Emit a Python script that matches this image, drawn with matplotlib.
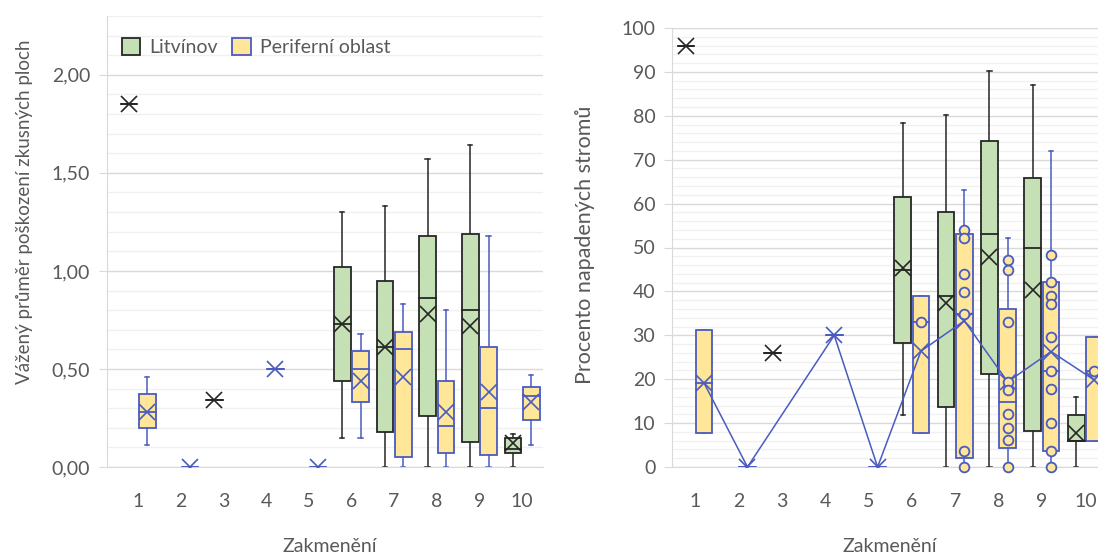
import matplotlib
matplotlib.use("Agg")
from matplotlib import pyplot as plt
from matplotlib.patches import Rectangle
from matplotlib.ticker import MultipleLocator, FuncFormatter

categories = [1, 2, 3, 4, 5, 6, 7, 8, 9, 10]

# weighted damage of sample plots - Litvínov
litv_dmg_low = [1.85, None, 0.34, None, None, 0.15, 0.00, 0.00, 0.00, 0.00]
litv_dmg_q1 = [1.85, None, 0.34, None, None, 0.44, 0.18, 0.26, 0.13, 0.07]
litv_dmg_med = [1.85, None, 0.34, None, None, 0.73, 0.61, 0.86, 0.80, 0.09]
litv_dmg_q3 = [1.85, None, 0.34, None, None, 1.02, 0.95, 1.18, 1.19, 0.15]
litv_dmg_high = [1.85, None, 0.34, None, None, 1.30, 1.33, 1.57, 1.64, 0.17]
litv_dmg_mean = [1.85, None, 0.34, None, None, 0.73, 0.61, 0.78, 0.72, 0.12]

# weighted damage of sample plots - periphery
peri_dmg_low = [0.11, 0.00, None, 0.50, 0.00, 0.15, 0.00, 0.00, 0.00, 0.11]
peri_dmg_q1 = [0.20, 0.00, None, 0.50, 0.00, 0.33, 0.05, 0.07, 0.06, 0.24]
peri_dmg_med = [0.28, 0.00, None, 0.50, 0.00, 0.50, 0.60, 0.21, 0.30, 0.36]
peri_dmg_q3 = [0.37, 0.00, None, 0.50, 0.00, 0.59, 0.69, 0.44, 0.61, 0.41]
peri_dmg_high = [0.46, 0.00, None, 0.50, 0.00, 0.68, 0.83, 0.80, 1.18, 0.47]
peri_dmg_mean = [0.28, 0.00, None, 0.50, 0.00, 0.44, 0.46, 0.28, 0.38, 0.33]

# percentage of attacked trees - Litvínov
litv_pct_low = [96, None, 26, None, None, 11.8, 0, 0, 0, 0]
litv_pct_q1 = [96, None, 26, None, None, 28.3, 13.6, 21.2, 8.3, 6.0]
litv_pct_med = [96, None, 26, None, None, 44.9, 39.0, 53.1, 49.8, 6.0]
litv_pct_q3 = [96, None, 26, None, None, 61.4, 58.1, 74.3, 65.9, 11.8]
litv_pct_high = [96, None, 26, None, None, 78.4, 80.2, 90.3, 87.0, 16.0]
litv_pct_mean = [96, None, 26, None, None, 45.3, 37.3, 47.9, 40.3, 7.7]

# percentage of attacked trees - periphery
peri_pct_low = [7.7, 0, None, 30, 0, 7.7, 0, 0, 0, 6.0]
peri_pct_q1 = [7.7, 0, None, 30, 0, 7.7, 2.0, 4.3, 3.6, 6.0]
peri_pct_med = [19.1, 0, None, 30, 0, 33.0, 34.8, 14.7, 21.9, 21.9]
peri_pct_q3 = [31.2, 0, None, 30, 0, 38.9, 53.1, 36.1, 42.1, 29.7]
peri_pct_high = [31.2, 0, None, 30, 0, 38.9, 63.1, 52.1, 72.0, 29.7]
peri_pct_mean = [19.1, 0, None, 30, 0, 26.4, 33.3, 19.4, 26.3, 19.8]
peri_pct_points = [
    [], [], [], [], [],
    [33.0],
    [54.0, 52.1, 44.0, 39.9, 34.8, 3.7, 0.0],
    [47.2, 44.9, 33.1, 19.4, 17.6, 12.0, 8.8, 6.2, 0.0],
    [48.2, 42.2, 39.0, 37.1, 29.7, 21.9, 17.8, 10.1, 3.7, 0.0],
    [21.9],
]

GREEN = "#C5E0B4"
YELLOW = "#FFE699"
DARK = "#262626"
BLUE = "#4A5BC0"
TEXT = "#595959"
GRID = "#D9D9D9"
GRID_MINOR = "#F0F0F0"

plt.rcParams["font.family"] = ["Lato", "DejaVu Sans"]

W, H = 1098, 555
fig = plt.figure(figsize=(W / 100, H / 100), dpi=100)


def px_axes(left, top, right, bottom):
    return fig.add_axes([left / W, 1 - bottom / H, (right - left) / W, (bottom - top) / H])


def draw_boxes(ax, offset, width, low, q1, med, q3, high, mean, face, edge,
               points=None, mean_line=False):
    half = width / 2
    cap = 0.05
    line_x, line_y = [], []
    for i, cat in enumerate(categories):
        if mean[i] is None:
            continue
        x = cat + offset
        ax.plot([x, x], [low[i], q1[i]], color=edge, lw=1.1, zorder=2)
        ax.plot([x, x], [q3[i], high[i]], color=edge, lw=1.1, zorder=2)
        ax.plot([x - cap, x + cap], [high[i]] * 2, color=edge, lw=1.1, zorder=2)
        ax.plot([x - cap, x + cap], [low[i]] * 2, color=edge, lw=1.1, zorder=2)
        ax.add_patch(Rectangle((x - half, q1[i]), width, q3[i] - q1[i],
                               facecolor=face, edgecolor=edge, lw=1.3, zorder=3))
        ax.plot([x - half, x + half], [med[i]] * 2, color=edge, lw=1.3, zorder=4)
        ax.plot(x, mean[i], marker="x", ms=11, mew=1.2, color=edge, zorder=5)
        line_x.append(x)
        line_y.append(mean[i])
    if mean_line:
        ax.plot(line_x, line_y, color=edge, lw=1.1, zorder=6)
    if points:
        for i, cat in enumerate(categories):
            if points[i]:
                ax.plot([cat + offset] * len(points[i]), points[i], "o", ms=7,
                        mfc=YELLOW, mec=edge, mew=1.3, zorder=7, clip_on=False)


def style_axes(ax, xlim, ylim, major, minor, fmt):
    ax.set_xlim(*xlim)
    ax.set_ylim(*ylim)
    ax.set_xticks(categories)
    ax.yaxis.set_major_locator(MultipleLocator(major))
    ax.yaxis.set_minor_locator(MultipleLocator(minor))
    ax.yaxis.set_major_formatter(FuncFormatter(fmt))
    ax.grid(which="major", axis="y", color=GRID, lw=1.0)
    ax.grid(which="minor", axis="y", color=GRID_MINOR, lw=1.0)
    ax.set_axisbelow(True)
    for s in ["top", "right"]:
        ax.spines[s].set_visible(False)
    ax.spines["left"].set_color(GRID)
    ax.spines["bottom"].set_color(GRID)
    ax.tick_params(axis="y", which="major", length=6, color=GRID,
                   labelcolor=TEXT, labelsize=14, pad=6)
    ax.tick_params(axis="y", which="minor", length=0)
    ax.tick_params(axis="x", length=0, labelcolor=TEXT, labelsize=14, pad=19)


# left: weighted damage
ax1 = px_axes(107, 16, 543, 467)
style_axes(ax1, (0.273, 10.49), (0, 2.3), 0.5, 0.1,
           lambda v, p: f"{v:.2f}".replace(".", ","))
draw_boxes(ax1, -0.215, 0.39, litv_dmg_low, litv_dmg_q1, litv_dmg_med,
           litv_dmg_q3, litv_dmg_high, litv_dmg_mean, GREEN, DARK)
draw_boxes(ax1, 0.215, 0.39, peri_dmg_low, peri_dmg_q1, peri_dmg_med,
           peri_dmg_q3, peri_dmg_high, peri_dmg_mean, YELLOW, BLUE)

# right: percentage of attacked trees
ax2 = px_axes(672, 28, 1107, 467)
style_axes(ax2, (0.469, 10.5), (0, 100), 10, 2, lambda v, p: f"{v:.0f}")
draw_boxes(ax2, -0.21, 0.385, litv_pct_low, litv_pct_q1, litv_pct_med,
           litv_pct_q3, litv_pct_high, litv_pct_mean, GREEN, DARK)
draw_boxes(ax2, 0.21, 0.385, peri_pct_low, peri_pct_q1, peri_pct_med,
           peri_pct_q3, peri_pct_high, peri_pct_mean, YELLOW, BLUE,
           points=peri_pct_points, mean_line=True)

# axis titles
fig.text(25 / W, 1 - 212 / H, "Vážený průměr poškození zkusných ploch",
         rotation=90, ha="center", va="center", fontsize=13.5, color=TEXT)
fig.text(585 / W, 1 - 245 / H, "Procento napadených stromů",
         rotation=90, ha="center", va="center", fontsize=15.5, color=TEXT)
fig.text(330 / W, 1 - 547 / H, "Zakmenění", ha="center", va="center",
         fontsize=14, color=TEXT)
fig.text(890 / W, 1 - 547 / H, "Zakmenění", ha="center", va="center",
         fontsize=14, color=TEXT)

handles = [Rectangle((0, 0), 1, 1, facecolor=GREEN, edgecolor=DARK, lw=1.3),
           Rectangle((0, 0), 1, 1, facecolor=YELLOW, edgecolor=BLUE, lw=1.3)]
fig.legend(handles, ["Litvínov", "Periferní oblast"], loc="upper left",
           bbox_to_anchor=(122 / W, 1 - 38 / H), ncol=2, frameon=False,
           fontsize=14, handlelength=0.95, handleheight=1.0,
           handletextpad=0.45, columnspacing=0.75, borderpad=0,
           borderaxespad=0, labelcolor=TEXT)

fig.savefig("out.png", dpi=100)
